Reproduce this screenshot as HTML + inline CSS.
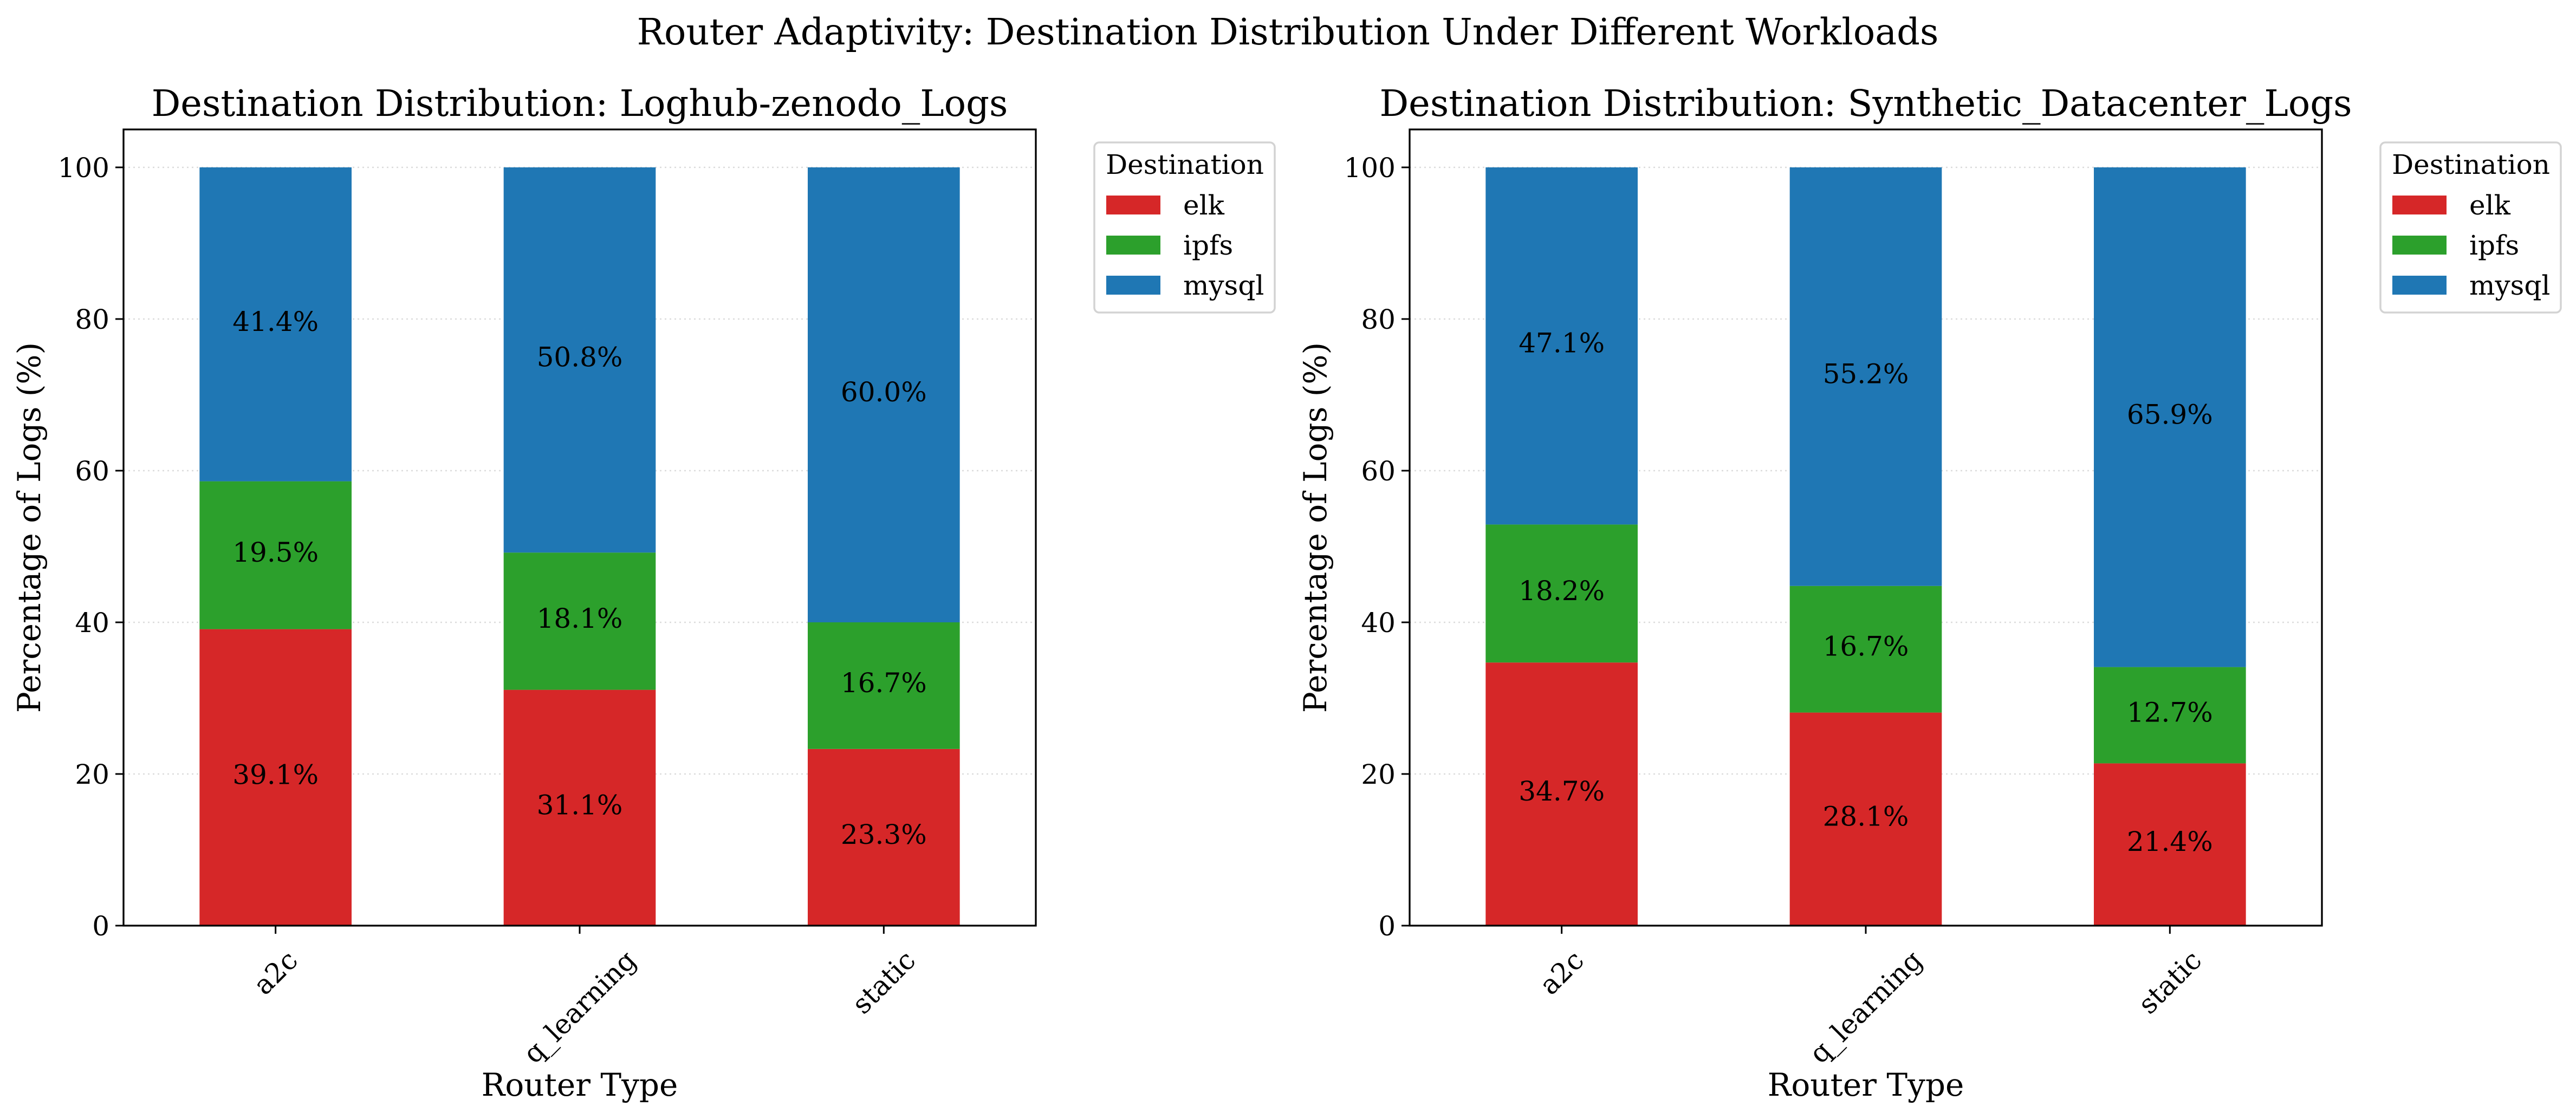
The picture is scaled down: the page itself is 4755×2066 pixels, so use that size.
<!DOCTYPE html>
<html><head><meta charset="utf-8"><style>
html,body{margin:0;padding:0;background:#fff;}
svg{display:block;font-family:"DejaVu Serif","Liberation Serif",serif;}
</style></head><body>
<svg id="fig" width="4755" height="2066" viewBox="0 0 4755 2066" xmlns="http://www.w3.org/2000/svg">
<rect width="4755" height="2066" fill="#fff"/>
<text x="2377" y="82" font-size="67" text-anchor="middle">Router Adaptivity: Destination Distribution Under Different Workloads</text>
</svg>
<script>
const categories = ["a2c","q_learning","static"];
const seriesNames = ["elk","ipfs","mysql"];
const colors = ["#d62728","#2ca02c","#1f77b4"];
const titles = ["Destination Distribution: Loghub-zenodo_Logs","Destination Distribution: Synthetic_Datacenter_Logs"];
const leftElk = [39.1,31.1,23.3];
const leftIpfs = [19.5,18.1,16.7];
const leftMysql = [41.4,50.8,60.0];
const rightElk = [34.7,28.1,21.4];
const rightIpfs = [18.2,16.7,12.7];
const rightMysql = [47.1,55.2,65.9];
const yTicks = [0,20,40,60,80,100];
const panelsData = [[leftElk,leftIpfs,leftMysql],[rightElk,rightIpfs,rightMysql]];

const NS="http://www.w3.org/2000/svg";
const svg=document.getElementById('fig');
function mk(tag,attrs,parent,text){const e=document.createElementNS(NS,tag);for(const k in attrs)e.setAttribute(k,attrs[k]);if(text!==undefined)e.textContent=text;(parent||svg).appendChild(e);return e;}

const axLefts=[228,2602], axW=1684, axTop=239, axBot=1709, yMax=105;
panelsData.forEach((series,p)=>{
  const L=axLefts[p], R=L+axW;
  const g=mk('g',{});
  
  
  const xs=i=>L+(i+0.5)*axW/categories.length;
  const ys=v=>axBot-(v/yMax)*(axBot-axTop);
  const bw=0.5*axW/categories.length;
  yTicks.forEach(t=>{ if(t===0) return;
    const gl=mk('line',{x1:L,x2:R,y1:ys(t),y2:ys(t),stroke:'#ccc','stroke-width':2.5,'stroke-dasharray':'3,6',opacity:0.7},g);
    
    
  });
  categories.forEach((c,i)=>{
    let base=0;
    series.forEach((vals,s)=>{
      const v=vals[i];
      const r=mk('rect',{x:xs(i)-bw/2,y:ys(base+v),width:bw,height:ys(base)-ys(base+v),fill:colors[s]},g);
      
      
      const t=mk('text',{x:xs(i),y:ys(base+v/2)+12,'font-size':50,'text-anchor':'middle'},g,v.toFixed(1)+'%');
      
      
      base+=v;
    });
    const tk=mk('line',{x1:xs(i),x2:xs(i),y1:axBot,y2:axBot+15,stroke:'#000','stroke-width':3},g);
    
    
    const cx=xs(i);
    const tl=mk('text',{x:cx,y:0,'font-size':50,'text-anchor':'middle','dominant-baseline':'central'},g,c);
    
    
    const w=tl.getComputedTextLength();
    const cy=1750+(w+40)*0.7071/2;
    tl.setAttribute('y',cy);
    tl.setAttribute('transform',`rotate(-45 ${cx} ${cy})`);
  });
  yTicks.forEach(t=>{
    const tk=mk('line',{x1:L-15,x2:L,y1:ys(t),y2:ys(t),stroke:'#000','stroke-width':3},g);
    
    
    const tl=mk('text',{x:L-26,y:ys(t)+18,'font-size':50,'text-anchor':'end'},g,String(t));
    
    
  });
  const fr=mk('rect',{x:L,y:axTop,width:axW,height:axBot-axTop,fill:'none',stroke:'#000','stroke-width':3.3},g);
  
  
  const ti=mk('text',{x:L+axW/2,y:214,'font-size':67,'text-anchor':'middle'},g,titles[p]);
  
  
  const xl=mk('text',{x:L+axW/2,y:2023,'font-size':58,'text-anchor':'middle'},g,'Router Type');
  
  
  const yx=L-174, yy=(axTop+axBot)/2;
  const yl=mk('text',{x:yx,y:yy+20,'font-size':58,'text-anchor':'middle',transform:`rotate(-90 ${yx} ${yy})`},g,'Percentage of Logs (%)');
  
  
  const lx=R+108;
  const lg=mk('g',{},g);
  
  
  mk('rect',{x:lx,y:263,width:333,height:314,rx:9,fill:'#fff',stroke:'#d3d3d3','stroke-width':3.5},lg);
  const lt=mk('text',{x:lx+167,y:321,'font-size':50,'text-anchor':'middle'},lg,'Destination');
  
  
  seriesNames.forEach((n,s)=>{
    const e=mk('g',{},lg);
    
    
    mk('rect',{x:lx+22,y:361+s*74,width:100,height:35,fill:colors[s]},e);
    mk('text',{x:lx+164,y:396+s*74,'font-size':50},e,n);
  });
});
</script>
</body></html>
